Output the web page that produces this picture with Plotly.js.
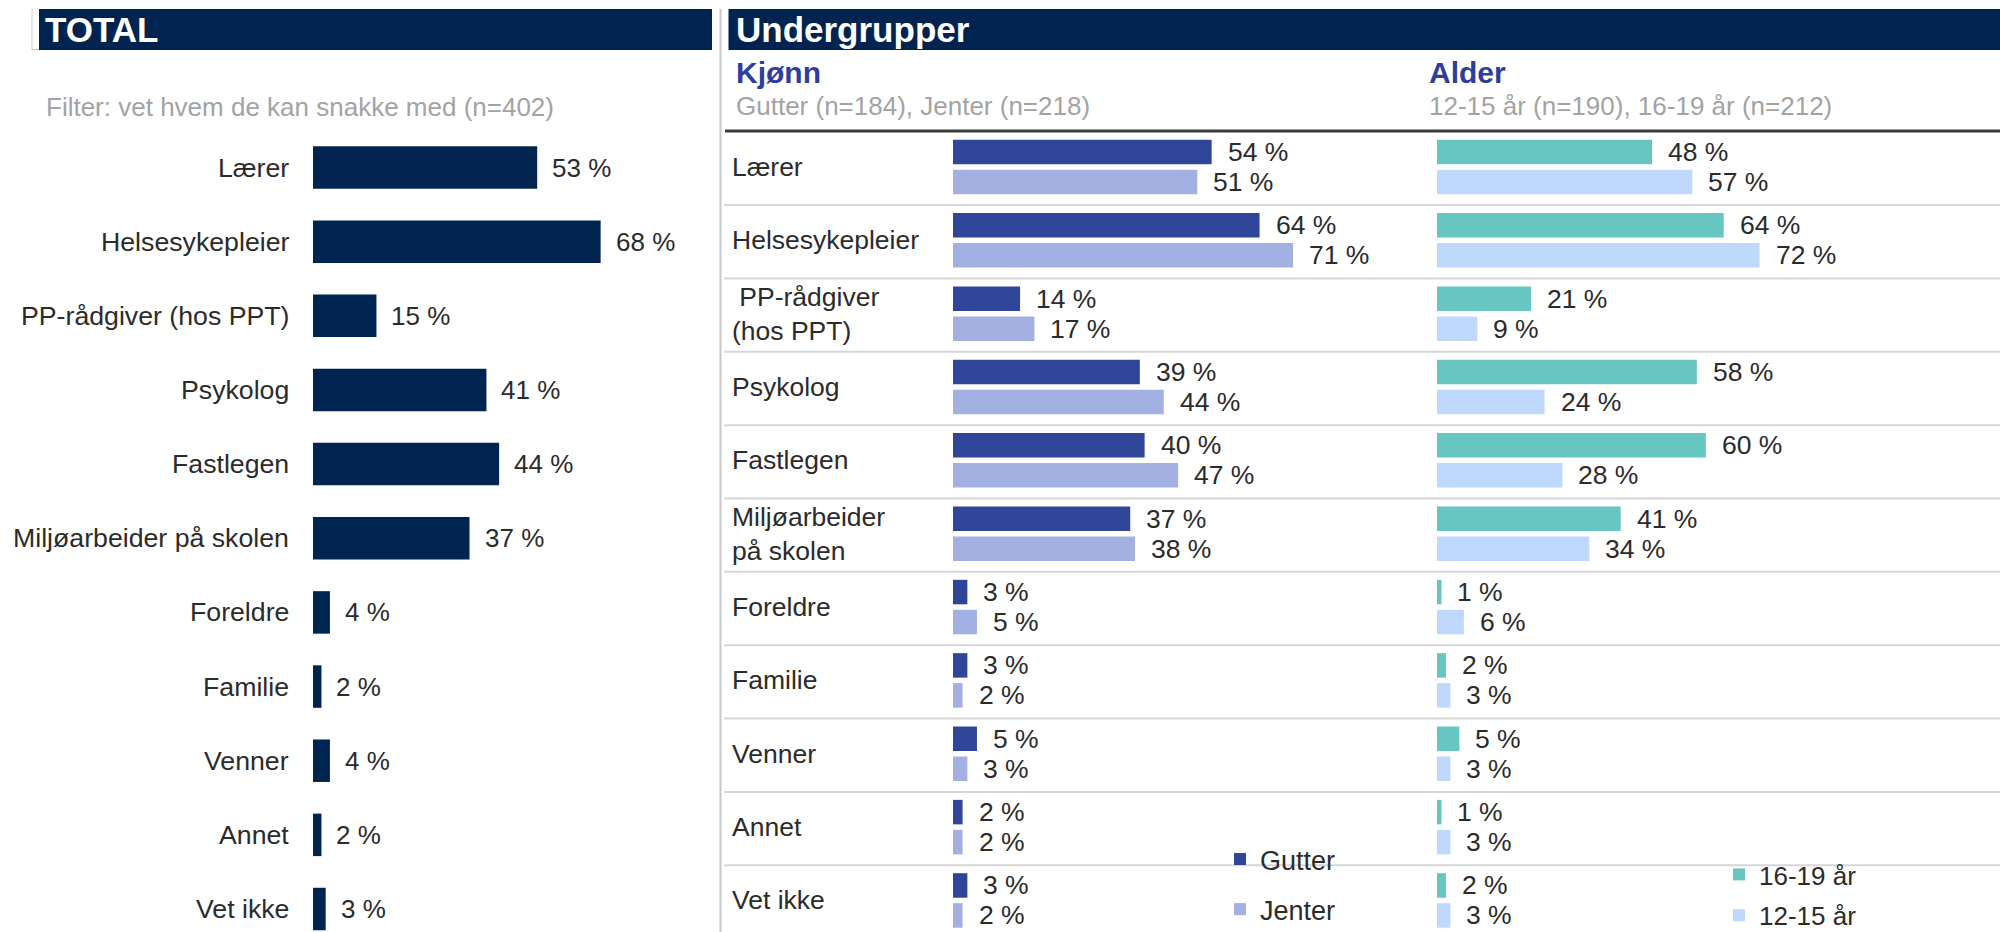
<!DOCTYPE html>
<html>
<head>
<meta charset="utf-8">
<script src="https://cdn.plot.ly/plotly-3.0.1.min.js"></script>
<style>
  html, body { margin: 0; padding: 0; background: #ffffff; }
  #chart { width: 2000px; height: 932px; }
</style>
</head>
<body>
<div id="chart"></div>
<script>
// ---------- DATA ----------
const categories = ['Lærer', 'Helsesykepleier', 'PP-rådgiver (hos PPT)', 'Psykolog', 'Fastlegen',
  'Miljøarbeider på skolen', 'Foreldre', 'Familie', 'Venner', 'Annet', 'Vet ikke'];
const subgroupLabels = ['Lærer', 'Helsesykepleier', '\u00a0PP-rådgiver<br>(hos PPT)', 'Psykolog', 'Fastlegen',
  'Miljøarbeider<br>på skolen', 'Foreldre', 'Familie', 'Venner', 'Annet', 'Vet ikke'];
const totalValues   = [53, 68, 15, 41, 44, 37, 4, 2, 4, 2, 3];
const gutterValues  = [54, 64, 14, 39, 40, 37, 3, 3, 5, 2, 3];
const jenterValues  = [51, 71, 17, 44, 47, 38, 5, 2, 3, 2, 2];
const age1619Values = [48, 64, 21, 58, 60, 41, 1, 2, 5, 1, 2];
const age1215Values = [57, 72,  9, 24, 28, 34, 6, 3, 3, 3, 3];
const seriesNames = { gutter: 'Gutter', jenter: 'Jenter', a1619: '16-19 år', a1215: '12-15 år' };
const headerTotal = 'TOTAL';
const headerSub = 'Undergrupper';
const filterText = 'Filter: vet hvem de kan snakke med (n=402)';
const kjonnTitle = 'Kjønn';
const kjonnSub = 'Gutter (n=184), Jenter (n=218)';
const alderTitle = 'Alder';
const alderSub = '12-15 år (n=190), 16-19 år (n=212)';

// ---------- STYLE ----------
const W = 2000, H = 932;
const px = v => v / W;            // pixel x -> paper
const py = v => (H - v) / H;      // pixel y (from top) -> paper
const FONT = 'Liberation Sans, Arial, Helvetica, sans-serif';
const NAVY = '#00244F';
const TXT = '#2B2B2B';
const GREY_TXT = '#A3A3A3';
const C_TOTAL = '#00244F', C_GUT = '#2E4598', C_JEN = '#A2B0E2', C_1619 = '#67C5C2', C_1215 = '#BED9FB';

const idx = categories.map((c, i) => i);
const pctText = v => v + ' %';

// bar geometry (in category-index units)
const totW = 0.573;
const subW = 0.334, subOffTop = -0.3715, subOffBot = 0.0375;
const subLabelShift = subOffTop + subW / 2; // centre of the upper bar

const traces = [
  { type: 'bar', orientation: 'h', name: 'Total', x: totalValues, y: idx,
    xaxis: 'x', yaxis: 'y', width: totW, offset: -totW / 2,
    marker: { color: C_TOTAL }, showlegend: false, hoverinfo: 'x+name' },
  { type: 'bar', orientation: 'h', name: seriesNames.gutter, x: gutterValues, y: idx,
    xaxis: 'x2', yaxis: 'y2', width: subW, offset: subOffTop,
    marker: { color: C_GUT }, legend: 'legend', legendgroup: 'g' },
  { type: 'bar', orientation: 'h', name: seriesNames.jenter, x: jenterValues, y: idx,
    xaxis: 'x2', yaxis: 'y2', width: subW, offset: subOffBot,
    marker: { color: C_JEN }, legend: 'legend', legendgroup: 'j' },
  { type: 'bar', orientation: 'h', name: seriesNames.a1619, x: age1619Values, y: idx,
    xaxis: 'x3', yaxis: 'y2', width: subW, offset: subOffTop,
    marker: { color: C_1619 }, legend: 'legend2', legendgroup: 'a' },
  { type: 'bar', orientation: 'h', name: seriesNames.a1215, x: age1215Values, y: idx,
    xaxis: 'x3', yaxis: 'y2', width: subW, offset: subOffBot,
    marker: { color: C_1215 }, legend: 'legend2', legendgroup: 'b' }
];

const annotations = [];
const shapes = [];

// headers
shapes.push({ type: 'rect', xref: 'paper', yref: 'paper', x0: px(39), x1: px(712), y0: py(50), y1: py(9),
  fillcolor: NAVY, line: { width: 0 }, layer: 'below' });
shapes.push({ type: 'rect', xref: 'paper', yref: 'paper', x0: px(728.5), x1: 1, y0: py(50), y1: py(9),
  fillcolor: NAVY, line: { width: 0 }, layer: 'below' });
shapes.push({ type: 'line', xref: 'paper', yref: 'paper', x0: px(32), x1: px(39), y0: py(49.5), y1: py(49.5),
  line: { color: '#CFCFCF', width: 1 } });
shapes.push({ type: 'line', xref: 'paper', yref: 'paper', x0: px(32), x1: px(32), y0: py(50), y1: py(9),
  line: { color: '#CFCFCF', width: 1 } });
// divider between panels
shapes.push({ type: 'line', xref: 'paper', yref: 'paper', x0: px(720.5), x1: px(720.5), y0: 0, y1: py(9),
  line: { color: '#C8C8C8', width: 2 } });
// thick line under the subgroup titles
shapes.push({ type: 'line', xref: 'paper', yref: 'paper', x0: px(725), x1: 1, y0: py(131), y1: py(131),
  line: { color: '#3A3A3A', width: 3 } });
// row separators in subgroup table
for (let i = 0; i < categories.length - 1; i++) {
  shapes.push({ type: 'line', xref: 'paper', yref: 'y2', x0: px(724), x1: 1, y0: i + 0.52, y1: i + 0.52,
    line: { color: '#D6D6D6', width: 2 } });
}

const ann = (o) => annotations.push(Object.assign({ showarrow: false, xanchor: 'left', yanchor: 'middle' }, o));

ann({ xref: 'paper', yref: 'paper', x: px(43), y: py(30), text: '<b>' + headerTotal + '</b>',
  font: { family: FONT, size: 35, color: '#FFFFFF' } });
ann({ xref: 'paper', yref: 'paper', x: px(734), y: py(30), text: '<b>' + headerSub + '</b>',
  font: { family: FONT, size: 35, color: '#FFFFFF' } });
ann({ xref: 'paper', yref: 'paper', x: px(44), y: py(107), text: filterText,
  font: { family: FONT, size: 26, color: GREY_TXT } });
ann({ xref: 'paper', yref: 'paper', x: px(734), y: py(72), text: '<b>' + kjonnTitle + '</b>',
  font: { family: FONT, size: 30, color: '#2F3E9E' } });
ann({ xref: 'paper', yref: 'paper', x: px(734), y: py(106), text: kjonnSub,
  font: { family: FONT, size: 26, color: GREY_TXT } });
ann({ xref: 'paper', yref: 'paper', x: px(1427), y: py(72), text: '<b>' + alderTitle + '</b>',
  font: { family: FONT, size: 30, color: '#2F3E9E' } });
ann({ xref: 'paper', yref: 'paper', x: px(1427), y: py(106), text: alderSub,
  font: { family: FONT, size: 26, color: GREY_TXT } });

// total panel: category labels + values
categories.forEach((c, i) => {
  ann({ xref: 'paper', yref: 'y', x: px(291), y: i, xanchor: 'right', text: c,
    font: { family: FONT, size: 26.7, color: TXT } });
  ann({ xref: 'x', yref: 'y', x: totalValues[i], y: i, xshift: 13, text: pctText(totalValues[i]),
    font: { family: FONT, size: 26, color: TXT } });
});

// subgroup panel: category labels + values
subgroupLabels.forEach((c, i) => {
  ann({ xref: 'paper', yref: 'y2', x: px(730), y: i, align: 'left', text: c,
    font: { family: FONT, size: 26.5, color: TXT } });
  ann({ xref: 'x2', yref: 'y2', x: gutterValues[i], y: i + subLabelShift, xshift: 14, text: pctText(gutterValues[i]),
    font: { family: FONT, size: 26.5, color: TXT } });
  ann({ xref: 'x2', yref: 'y2', x: jenterValues[i], y: i - subLabelShift, xshift: 14, text: pctText(jenterValues[i]),
    font: { family: FONT, size: 26.5, color: TXT } });
  ann({ xref: 'x3', yref: 'y2', x: age1619Values[i], y: i + subLabelShift, xshift: 14, text: pctText(age1619Values[i]),
    font: { family: FONT, size: 26.5, color: TXT } });
  ann({ xref: 'x3', yref: 'y2', x: age1215Values[i], y: i - subLabelShift, xshift: 14, text: pctText(age1215Values[i]),
    font: { family: FONT, size: 26.5, color: TXT } });
});

const hidden = { showgrid: false, zeroline: false, showline: false, showticklabels: false, ticks: '', fixedrange: true };

const layout = {
  width: W, height: H,
  margin: { l: 0, r: 0, t: 0, b: 0, pad: 0, autoexpand: false },
  paper_bgcolor: '#FFFFFF', plot_bgcolor: 'rgba(0,0,0,0)',
  font: { family: FONT, color: TXT },
  barmode: 'overlay',
  xaxis:  Object.assign({ domain: [px(313), px(713)], range: [0, 400 / 4.23], anchor: 'y' }, hidden),
  yaxis:  Object.assign({ domain: [0, py(130)], range: [10.31, -0.506], anchor: 'x' }, hidden),
  xaxis2: Object.assign({ domain: [px(953), px(1430)], range: [0, 477 / 4.79], anchor: 'y2' }, hidden),
  yaxis2: Object.assign({ domain: [0, py(130)], range: [10.43, -0.504], anchor: 'x2' }, hidden),
  xaxis3: Object.assign({ domain: [px(1437), px(1990)], range: [0, 553 / 4.48], anchor: 'y2' }, hidden),
  legend: { x: px(1220), xanchor: 'left', y: py(835), yanchor: 'top', bgcolor: 'rgba(0,0,0,0)',
    font: { family: FONT, size: 27, color: TXT }, tracegroupgap: 12, traceorder: 'grouped' },
  legend2: { x: px(1719), xanchor: 'left', y: py(851), yanchor: 'top', bgcolor: 'rgba(0,0,0,0)',
    font: { family: FONT, size: 26, color: TXT }, tracegroupgap: 4, traceorder: 'grouped' },
  shapes: shapes,
  annotations: annotations
};

Plotly.newPlot('chart', traces, layout, { displayModeBar: false, responsive: false });
</script>
</body>
</html>
